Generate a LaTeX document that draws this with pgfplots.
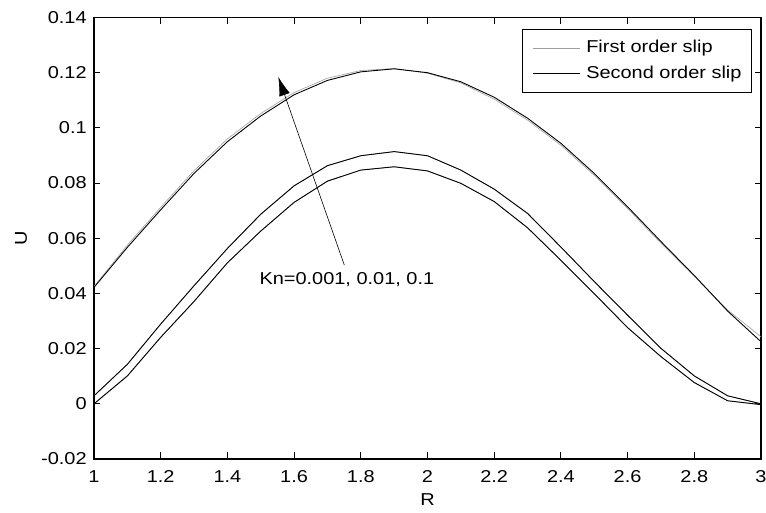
\documentclass[border=0pt]{standalone}
\usepackage{pgfplots}
\pgfplotsset{compat=1.18}
\usepackage{fontspec}
\setmainfont{Liberation Sans}[FakeStretch=1.16]
\usetikzlibrary{arrows.meta,calc}
\definecolor{firstgray}{rgb}{0.62,0.62,0.62}
\begin{document}
\fontsize{17.2}{20}\selectfont
\begin{tikzpicture}
\begin{axis}[
  scale only axis, width=667pt, height=441.5pt,
  xmin=1, xmax=3, ymin=-0.02, ymax=0.14,
  xtick={1,1.2,1.4,1.6,1.8,2,2.2,2.4,2.6,2.8,3},
  xticklabels={1,1.2,1.4,1.6,1.8,2,2.2,2.4,2.6,2.8,3},
  ytick={-0.02,0,0.02,0.04,0.06,0.08,0.1,0.12,0.14},
  yticklabels={-0.02,0,0.02,0.04,0.06,0.08,0.1,0.12,0.14},
  tick align=inside, major tick length=6.5pt,
  axis line style={line width=1.1pt},
  tick style={line width=0.9pt, black},
  every tick label/.append style={font=\fontsize{17.2}{20}\selectfont},
  xticklabel style={yshift=-6pt},
  yticklabel style={xshift=-1.4pt},
  xlabel={R}, ylabel={U},
  label style={font=\fontsize{17.2}{20}\selectfont},
  xlabel style={at={(axis description cs:0.5,-0.0929)}, anchor=center},
  ylabel style={at={(axis description cs:-0.1095,0.5)}, anchor=center},
  legend style={at={(rel axis cs:0.9865,0.974)}, anchor=north east, draw=black, line width=0.9pt,
    font=\fontsize{17.2}{20}\selectfont, inner xsep=10pt, inner ysep=10pt, row sep=9pt,
    nodes={inner sep=0pt, text height=13pt, text depth=4pt}},
  legend cell align=left,
  legend image code/.code={\draw[#1] (0pt,0pt) -- (47pt,0pt);},
]
% Kn = 0.001 (lower), first and second order overlap
\addplot[firstgray, line width=0.6pt, forget plot] coordinates {
(1.0,0.0000)(1.1,0.0101)(1.2,0.0241)(1.3,0.0371)(1.4,0.0511)(1.5,0.0626)(1.6,0.0730)
(1.7,0.0807)(1.8,0.0847)(1.9,0.0859)(2.0,0.0844)(2.1,0.0799)(2.2,0.0733)(2.3,0.0638)
(2.4,0.0520)(2.5,0.0399)(2.6,0.0276)(2.7,0.0171)(2.8,0.0077)(2.9,0.0011)(3.0,-0.0003)};
\addplot[black, line width=0.9pt, forget plot] coordinates {
(1.0,0.0000)(1.1,0.0101)(1.2,0.0241)(1.3,0.0371)(1.4,0.0511)(1.5,0.0626)(1.6,0.0730)
(1.7,0.0807)(1.8,0.0847)(1.9,0.0859)(2.0,0.0844)(2.1,0.0799)(2.2,0.0733)(2.3,0.0638)
(2.4,0.0520)(2.5,0.0399)(2.6,0.0276)(2.7,0.0171)(2.8,0.0077)(2.9,0.0011)(3.0,-0.0003)};
% Kn = 0.01
\addplot[firstgray, line width=0.6pt, forget plot] coordinates {
(1.0,0.0029)(1.1,0.0143)(1.2,0.0289)(1.3,0.0428)(1.4,0.0563)(1.5,0.0687)(1.6,0.0790)
(1.7,0.0863)(1.8,0.0899)(1.9,0.0914)(2.0,0.0899)(2.1,0.0847)(2.2,0.0778)(2.3,0.0690)
(2.4,0.0568)(2.5,0.0443)(2.6,0.0321)(2.7,0.0201)(2.8,0.0101)(2.9,0.0029)(3.0,0.0000)};
\addplot[black, line width=0.9pt, forget plot] coordinates {
(1.0,0.0029)(1.1,0.0143)(1.2,0.0289)(1.3,0.0428)(1.4,0.0563)(1.5,0.0687)(1.6,0.0790)
(1.7,0.0863)(1.8,0.0899)(1.9,0.0914)(2.0,0.0899)(2.1,0.0847)(2.2,0.0778)(2.3,0.0690)
(2.4,0.0568)(2.5,0.0443)(2.6,0.0321)(2.7,0.0201)(2.8,0.0101)(2.9,0.0029)(3.0,0.0000)};
% Kn = 0.1
\addplot[firstgray, line width=0.6pt] coordinates {
(1.0,0.0425)(1.1,0.0575)(1.2,0.0712)(1.3,0.0845)(1.4,0.0960)(1.5,0.1052)(1.6,0.1128)
(1.7,0.1180)(1.8,0.1208)(1.9,0.1215)(2.0,0.1198)(2.1,0.1163)(2.2,0.1104)(2.3,0.1028)
(2.4,0.0937)(2.5,0.0828)(2.6,0.0708)(2.7,0.0582)(2.8,0.0462)(2.9,0.0340)(3.0,0.0243)};
\addlegendentry{\hspace{6pt}First order slip}
\addplot[black, line width=0.9pt] coordinates {
(1.0,0.0422)(1.1,0.0567)(1.2,0.0703)(1.3,0.0835)(1.4,0.0950)(1.5,0.1043)(1.6,0.1120)
(1.7,0.1172)(1.8,0.1203)(1.9,0.1214)(2.0,0.1200)(2.1,0.1167)(2.2,0.1111)(2.3,0.1035)
(2.4,0.0944)(2.5,0.0835)(2.6,0.0714)(2.7,0.0588)(2.8,0.0465)(2.9,0.0336)(3.0,0.0225)};
\addlegendentry{\hspace{6pt}Second order slip}
\draw[line width=0.6pt, -{Latex[length=19pt,width=11pt]}] (axis cs:1.7505,0.0503) -- (axis cs:1.5526,0.1185);
\node[anchor=west, inner sep=0pt, font=\fontsize{17.2}{20}\selectfont] at (axis cs:1.4957,0.0449) {Kn=0.001, 0.01, 0.1};
\coordinate (bl) at (rel axis cs:0,0);
\end{axis}
\pgfresetboundingbox
\path[use as bounding box] ($(bl)+(-94pt,-54pt)$) rectangle ($(bl)+(672pt,459pt)$);
\end{tikzpicture}
\end{document}
